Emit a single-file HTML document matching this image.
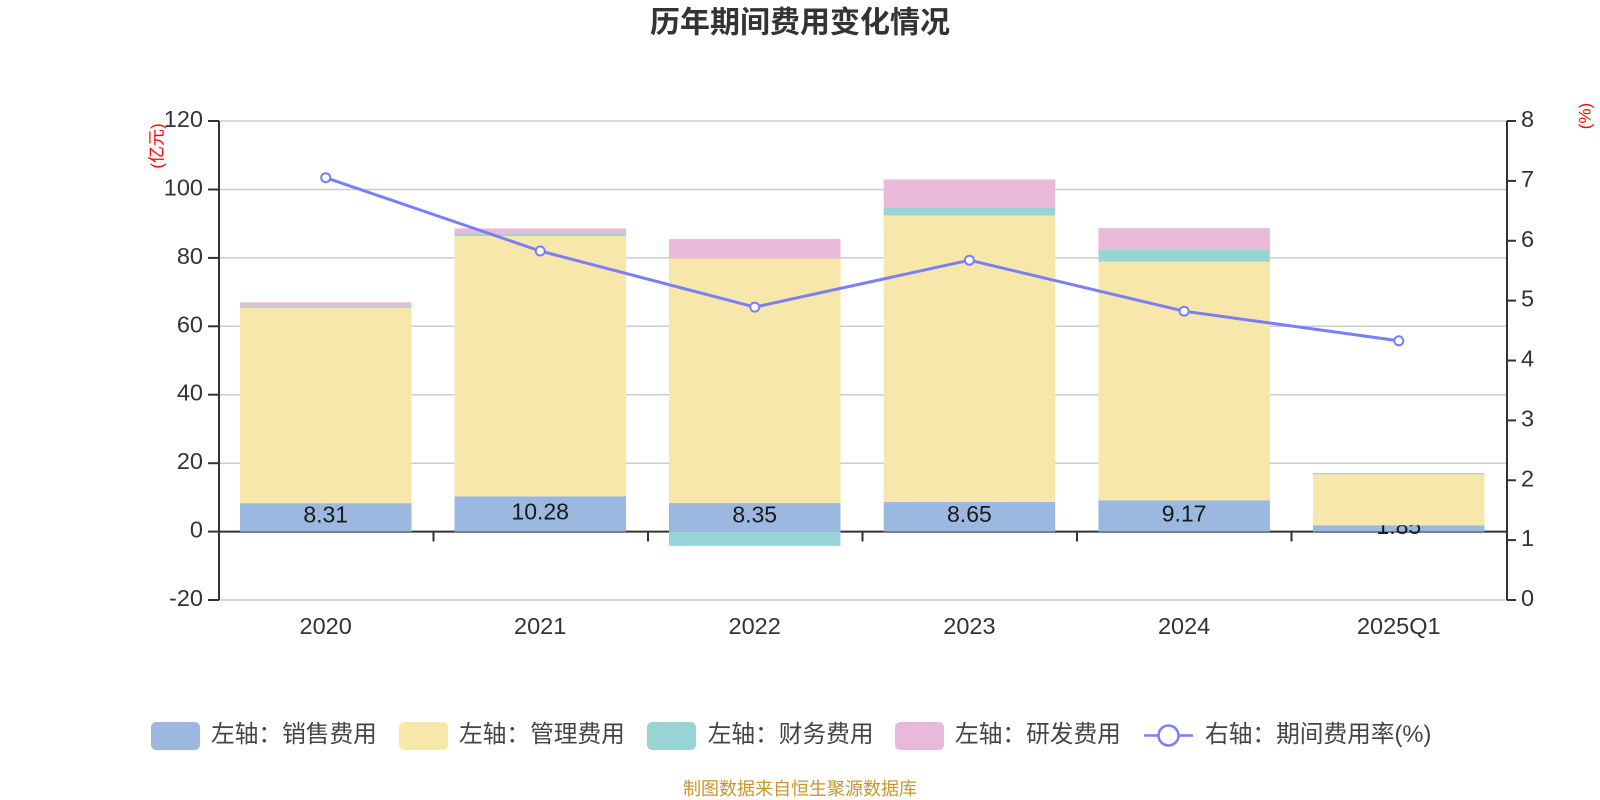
<!DOCTYPE html>
<html>
<head>
<meta charset="utf-8">
<style>
  html, body { margin: 0; padding: 0; background: #ffffff; }
  svg { display: block; }
  text { font-family: "Liberation Sans", "Noto Sans CJK SC", sans-serif; }
</style>
</head>
<body>
<svg width="1600" height="800" viewBox="0 0 1600 800" xmlns="http://www.w3.org/2000/svg">
  <rect x="0" y="0" width="1600" height="800" fill="#ffffff"/>

  <!-- Title -->
  <text x="800" y="32.5" text-anchor="middle" font-size="30" font-weight="bold" fill="#333333">历年期间费用变化情况</text>

  <!-- Grid lines -->
  <g stroke="#cccccc" stroke-width="1.5">
    <line x1="219" y1="121" x2="1507" y2="121"/>
    <line x1="219" y1="189.5" x2="1507" y2="189.5"/>
    <line x1="219" y1="257.9" x2="1507" y2="257.9"/>
    <line x1="219" y1="326.3" x2="1507" y2="326.3"/>
    <line x1="219" y1="394.7" x2="1507" y2="394.7"/>
    <line x1="219" y1="463.2" x2="1507" y2="463.2"/>
    <line x1="219" y1="600" x2="1507" y2="600"/>
  </g>

  <!-- X axis line at zero -->
  <line x1="219" y1="531.6" x2="1507" y2="531.6" stroke="#333333" stroke-width="2"/>
  <!-- X category ticks -->
  <g stroke="#333333" stroke-width="2">
    <line x1="433.5" y1="531.6" x2="433.5" y2="541.5"/>
    <line x1="648" y1="531.6" x2="648" y2="541.5"/>
    <line x1="862.5" y1="531.6" x2="862.5" y2="541.5"/>
    <line x1="1077" y1="531.6" x2="1077" y2="541.5"/>
    <line x1="1291.5" y1="531.6" x2="1291.5" y2="541.5"/>
  </g>

  <!-- Sales bars (blue) -->
  <g fill="#9BB8E1">
    <rect x="240" y="503.17" width="171.5" height="28.43"/>
    <rect x="454.5" y="496.43" width="171.5" height="35.17"/>
    <rect x="669" y="503.03" width="171.5" height="28.57"/>
    <rect x="883.7" y="502.01" width="171.5" height="29.59"/>
    <rect x="1098.4" y="500.23" width="171.5" height="31.37"/>
    <rect x="1313" y="525.27" width="171.5" height="6.33"/>
  </g>

  <!-- Sales labels -->
  <g font-size="23" fill="#1a1a1a" text-anchor="middle">
    <text x="325.7" y="522.7">8.31</text>
    <text x="540.2" y="519.4">10.28</text>
    <text x="754.7" y="522.7">8.35</text>
    <text x="969.4" y="521.9">8.65</text>
    <text x="1184.1" y="521.3">9.17</text>
    <text x="1398.8" y="534.2">1.85</text>
  </g>

  <!-- Management bars (yellow) -->
  <g fill="#F8E7AA">
    <rect x="240" y="307.84" width="171.5" height="195.33"/>
    <rect x="454.5" y="235.99" width="171.5" height="260.44"/>
    <rect x="669" y="258.57" width="171.5" height="244.46"/>
    <rect x="883.7" y="215.46" width="171.5" height="286.55"/>
    <rect x="1098.4" y="261.65" width="171.5" height="238.58"/>
    <rect x="1313" y="474.12" width="171.5" height="51.15"/>
  </g>

  <!-- Finance bars (cyan) -->
  <g fill="#98D4D5">
    <rect x="240" y="306.2" width="171.5" height="1.64"/>
    <rect x="454.5" y="234.1" width="171.5" height="1.9"/>
    <rect x="669" y="531.6" width="171.5" height="14.2"/>
    <rect x="883.7" y="207.25" width="171.5" height="8.21"/>
    <rect x="1098.4" y="250.02" width="171.5" height="11.63"/>
    <rect x="1313" y="473.5" width="171.5" height="0.8"/>
  </g>

  <!-- R&D bars (pink) -->
  <g fill="#E8B9D8">
    <rect x="240" y="302.37" width="171.5" height="3.9"/>
    <rect x="454.5" y="228.46" width="171.5" height="5.7"/>
    <rect x="669" y="239.07" width="171.5" height="19.5"/>
    <rect x="883.7" y="179.54" width="171.5" height="27.71"/>
    <rect x="1098.4" y="228.12" width="171.5" height="21.9"/>
    <rect x="1313" y="473" width="171.5" height="0.7"/>
  </g>

  <!-- Left Y axis -->
  <line x1="219" y1="121" x2="219" y2="600" stroke="#333333" stroke-width="2"/>
  <g stroke="#333333" stroke-width="2">
    <line x1="208" y1="121" x2="219" y2="121"/>
    <line x1="208" y1="189.5" x2="219" y2="189.5"/>
    <line x1="208" y1="257.9" x2="219" y2="257.9"/>
    <line x1="208" y1="326.3" x2="219" y2="326.3"/>
    <line x1="208" y1="394.7" x2="219" y2="394.7"/>
    <line x1="208" y1="463.2" x2="219" y2="463.2"/>
    <line x1="208" y1="531.6" x2="219" y2="531.6"/>
    <line x1="208" y1="600" x2="219" y2="600"/>
  </g>
  <g font-size="23.5" fill="#333333" text-anchor="end">
    <text x="203" y="127">120</text>
    <text x="203" y="195.5">100</text>
    <text x="203" y="263.9">80</text>
    <text x="203" y="332.3">60</text>
    <text x="203" y="400.7">40</text>
    <text x="203" y="469.2">20</text>
    <text x="203" y="537.6">0</text>
    <text x="203" y="606">-20</text>
  </g>
  <text transform="translate(157,146) rotate(-90)" text-anchor="middle" dominant-baseline="central" font-size="17" fill="#ff0000">(亿元)</text>

  <!-- Right Y axis -->
  <line x1="1507" y1="121" x2="1507" y2="600" stroke="#333333" stroke-width="2"/>
  <g stroke="#333333" stroke-width="2">
    <line x1="1507" y1="121" x2="1516" y2="121"/>
    <line x1="1507" y1="180.9" x2="1516" y2="180.9"/>
    <line x1="1507" y1="240.75" x2="1516" y2="240.75"/>
    <line x1="1507" y1="300.6" x2="1516" y2="300.6"/>
    <line x1="1507" y1="360.5" x2="1516" y2="360.5"/>
    <line x1="1507" y1="420.4" x2="1516" y2="420.4"/>
    <line x1="1507" y1="480.25" x2="1516" y2="480.25"/>
    <line x1="1507" y1="540.1" x2="1516" y2="540.1"/>
    <line x1="1507" y1="600" x2="1516" y2="600"/>
  </g>
  <g font-size="23.5" fill="#333333" text-anchor="start">
    <text x="1521" y="127">8</text>
    <text x="1521" y="186.9">7</text>
    <text x="1521" y="246.75">6</text>
    <text x="1521" y="306.6">5</text>
    <text x="1521" y="366.5">4</text>
    <text x="1521" y="426.4">3</text>
    <text x="1521" y="486.25">2</text>
    <text x="1521" y="546.1">1</text>
    <text x="1521" y="606">0</text>
  </g>
  <text transform="translate(1585,116) rotate(-90)" text-anchor="middle" dominant-baseline="central" font-size="17" fill="#ff0000">(%)</text>

  <!-- Category labels -->
  <g font-size="23.5" fill="#333333" text-anchor="middle">
    <text x="325.7" y="634">2020</text>
    <text x="540.2" y="634">2021</text>
    <text x="754.7" y="634">2022</text>
    <text x="969.4" y="634">2023</text>
    <text x="1184.1" y="634">2024</text>
    <text x="1398.8" y="634">2025Q1</text>
  </g>

  <!-- Rate line -->
  <polyline points="325.7,177.7 540.2,251 754.7,307.1 969.4,260.2 1184.1,311.2 1398.8,340.8"
            fill="none" stroke="#7B7EF6" stroke-width="3" stroke-linejoin="round"/>
  <g fill="#ffffff" stroke="#7B7EF6" stroke-width="2">
    <circle cx="325.7" cy="177.7" r="4.5"/>
    <circle cx="540.2" cy="251" r="4.5"/>
    <circle cx="754.7" cy="307.1" r="4.5"/>
    <circle cx="969.4" cy="260.2" r="4.5"/>
    <circle cx="1184.1" cy="311.2" r="4.5"/>
    <circle cx="1398.8" cy="340.8" r="4.5"/>
  </g>

  <!-- Legend -->
  <rect x="151" y="722" width="49" height="28" rx="5" fill="#9BB8E1"/>
  <text x="211" y="742" font-size="23.7" fill="#444444">左轴：销售费用</text>
  <rect x="399" y="722" width="49" height="28" rx="5" fill="#F8E7AA"/>
  <text x="459" y="742" font-size="23.7" fill="#444444">左轴：管理费用</text>
  <rect x="647" y="722" width="49" height="28" rx="5" fill="#98D4D5"/>
  <text x="707.7" y="742" font-size="23.7" fill="#444444">左轴：财务费用</text>
  <rect x="895" y="722" width="49" height="28" rx="5" fill="#E8B9D8"/>
  <text x="955" y="742" font-size="23.7" fill="#444444">左轴：研发费用</text>
  <line x1="1144" y1="735.5" x2="1193" y2="735.5" stroke="#7B7EF6" stroke-width="2.5"/>
  <circle cx="1168.5" cy="735.5" r="10" fill="#ffffff" stroke="#7B7EF6" stroke-width="2.5"/>
  <text x="1205" y="742" font-size="23.7" fill="#444444">右轴：期间费用率(%)</text>

  <!-- Footer -->
  <text x="800" y="795" text-anchor="middle" font-size="18" fill="#C9952D">制图数据来自恒生聚源数据库</text>
</svg>
</body>
</html>
